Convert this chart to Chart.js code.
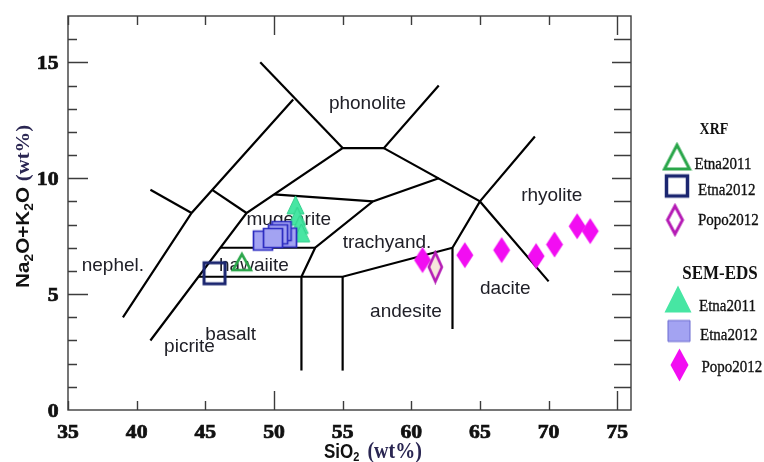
<!DOCTYPE html>
<html>
<head>
<meta charset="utf-8">
<title>TAS - Etna / Popocatépetl</title>
<script src="https://cdn.jsdelivr.net/npm/chart.js@4.4.1/dist/chart.umd.min.js"></script>
<style>
  html, body { margin: 0; padding: 0; background: #fff; }
  canvas { display: block; }
</style>
</head>
<body>
<canvas id="tas" width="764" height="462"></canvas>
<script>
// ---------- axis ----------
const xRange = [35, 76];
const yRange = [0, 17];
const xTicks = [35, 40, 45, 50, 55, 60, 65, 70, 75];
const xMajor = [50, 75];
const yTicks = [0, 5, 10, 15];

// ---------- TAS field boundaries (SiO2, Na2O+K2O) ----------
const tasLines = [
  [[39, 4], [44, 8.5], [51.4, 13.4]],
  [[41, 9.5], [44, 8.5]],
  [[45.5, 9.5], [48, 8.5]],
  [[41, 3], [48, 8.5], [55, 11.3], [58, 11.3], [62, 14]],
  [[49, 15], [55, 11.3]],
  [[58, 11.3], [65, 9], [70, 5.55]],
  [[63, 3.5], [63, 7], [65, 9], [69, 11.8]],
  [[44.5, 5.75], [55, 5.75], [63, 7]],
  [[52, 1.7], [52, 5.75], [53, 7], [57.2, 9], [62, 10]],
  [[55, 1.7], [55, 5.75]],
  [[46.1, 7], [53, 7]],
  [[50, 9.3], [57.2, 9]]
];

// field names, anchored at their left baseline
const fieldNames = ['phonolite', 'rhyolite', 'trachyand.', 'mugearite', 'hawaiite',
                    'nephel.', 'basalt', 'picrite', 'andesite', 'dacite'];
const fieldAnchors = [[54, 13], [68, 9], [55, 7], [48, 8], [46, 6],
                      [36, 6], [45, 3], [42, 2.5], [57, 4], [65, 5]];

// ---------- samples ----------
const xrfEtna2011 = [[47.66, 6.38]];
const xrfEtna2012 = [[45.67, 5.9]];
const xrfPopo2012 = [[61.75, 6.17]];

const semEtna2011 = [[51.57, 8.85], [51.69, 8.36], [51.88, 8.0], [51.99, 7.64]];
const semEtna2012 = [[50.95, 7.44], [50.55, 7.72], [50.3, 7.58], [49.2, 7.31], [49.93, 7.42]];
const semPopo2012 = [[60.82, 6.47], [63.9, 6.68], [66.58, 6.9], [69.09, 6.64],
                     [70.43, 7.14], [72.08, 7.93], [73.03, 7.72]];

const SANS = '"Liberation Sans", Arial, sans-serif';
const SERIF = '"Liberation Serif", "Times New Roman", serif';
const frameColor = '#3c3c3c';

// marker sprites (canvas) so triangles / tall diamonds keep their shape
function sprite(shape, w, h, fill, stroke, lw) {
  const c = document.createElement('canvas');
  c.width = Math.ceil(w + lw + 3);
  c.height = Math.ceil(h + lw + 3);
  const g = c.getContext('2d');
  const cx = c.width / 2, cy = c.height / 2;
  g.beginPath();
  if (shape === 'tri') {
    g.moveTo(cx, cy - h / 2);
    g.lineTo(cx + w / 2, cy + h / 2);
    g.lineTo(cx - w / 2, cy + h / 2);
  } else if (shape === 'sq') {
    g.rect(cx - w / 2, cy - h / 2, w, h);
  } else {
    g.moveTo(cx, cy - h / 2);
    g.lineTo(cx + w / 2, cy);
    g.lineTo(cx, cy + h / 2);
    g.lineTo(cx - w / 2, cy);
  }
  g.closePath();
  if (fill) { g.fillStyle = fill; g.fill(); }
  if (stroke) { g.lineWidth = lw; g.strokeStyle = stroke; g.lineJoin = 'miter'; g.stroke(); }
  return c;
}

const mk = {
  xrfTri: sprite('tri', 18, 16, null, '#2aa64a', 2.6),
  xrfSq: sprite('sq', 21, 21, null, '#1b2670', 3),
  xrfDia: sprite('dia', 13, 29, 'rgba(245,228,214,0.85)', '#b51cb5', 2.6),
  semTri: sprite('tri', 17, 18, '#47e6a3', '#30cf8b', 1),
  semSq: sprite('sq', 19, 19, '#a3a3f2', '#2a2ac0', 1.7),
  semDia: sprite('dia', 17, 26, '#f20df2', null, 0)
};
const legendMk = {
  xrfTri: sprite('tri', 25, 24, null, '#2aa64a', 3),
  xrfSq: sprite('sq', 21, 20, null, '#1b2670', 3.5),
  xrfDia: sprite('dia', 15, 28, '#fff', '#b51cb5', 3),
  semTri: sprite('tri', 27, 27, '#47e6a3', null, 0),
  semSq: sprite('sq', 22, 21, '#a3a3f2', '#6a6ad0', 1),
  semDia: sprite('dia', 18, 33, '#f20df2', null, 0)
};

const pts = arr => arr.map(([x, y]) => ({ x, y }));

function samples(label, arr, style, order) {
  return { label, data: pts(arr), pointStyle: style, pointRadius: 8, showLine: false, order };
}

function txt(ctx, s, x, y, font, color, align, sx = 1, sy = 1, heavy = 0) {
  ctx.save();
  ctx.translate(x, y);
  ctx.scale(sx, sy);
  ctx.font = font;
  ctx.fillStyle = color;
  ctx.textAlign = align;
  ctx.textBaseline = 'alphabetic';
  ctx.fillText(s, 0, 0);
  if (heavy) {
    ctx.strokeStyle = color;
    ctx.lineWidth = heavy;
    ctx.strokeText(s, 0, 0);
  }
  ctx.restore();
}

// text made of runs: [string, font, dy, color] or a number = extra gap
function runs(ctx, parts, x, y, angle, sx, sy) {
  ctx.save();
  ctx.translate(x, y);
  ctx.rotate(angle);
  ctx.scale(sx, sy);
  ctx.textBaseline = 'alphabetic';
  ctx.textAlign = 'left';
  let cx = 0;
  parts.forEach(p => {
    if (typeof p === 'number') { cx += p; return; }
    const [s, font, dy, color] = p;
    ctx.font = font;
    ctx.fillStyle = color;
    ctx.fillText(s, cx, dy);
    cx += ctx.measureText(s).width;
  });
  ctx.restore();
}

const tasDecor = {
  id: 'tasDecor',
  beforeDatasetsDraw(chart) {
    const ctx = chart.ctx, xs = chart.scales.x, ys = chart.scales.y;
    fieldNames.forEach((name, i) => {
      const [vx, vy] = fieldAnchors[i];
      txt(ctx, name, xs.getPixelForValue(vx), ys.getPixelForValue(vy),
          '19px ' + SANS, '#202028', 'left');
    });
  },
  afterDatasetsDraw(chart) {
    const ctx = chart.ctx, xs = chart.scales.x, ys = chart.scales.y;
    const { left, right, top, bottom } = chart.chartArea;
    ctx.save();
    ctx.strokeStyle = frameColor;
    ctx.lineWidth = 1.4;
    ctx.beginPath();
    xTicks.forEach(v => {
      const px = Math.round(xs.getPixelForValue(v)) + 0.5;
      const len = xMajor.includes(v) ? 19 : 9;
      ctx.moveTo(px, bottom); ctx.lineTo(px, bottom - len);
      ctx.moveTo(px, top); ctx.lineTo(px, top + len);
    });
    for (let v = yRange[0] + 1; v < yRange[1]; v++) {
      const py = Math.round(ys.getPixelForValue(v)) + 0.5;
      const major = v % 5 === 0;
      ctx.moveTo(left, py); ctx.lineTo(left + (major ? 20 : 9), py);
      ctx.moveTo(right, py); ctx.lineTo(right - (major ? 19 : 17), py);
    }
    ctx.stroke();
    ctx.strokeRect(left, top, right - left, bottom - top);
    ctx.restore();
  },
  afterDraw(chart) {
    const ctx = chart.ctx, xs = chart.scales.x, ys = chart.scales.y;
    const tickFont = '700 19px ' + SERIF;
    xTicks.forEach(v => {
      txt(ctx, String(v), xs.getPixelForValue(v), 438, tickFont, '#111', 'center', 1.14, 1, 0.7);
    });
    yTicks.forEach(v => {
      txt(ctx, String(v), 58.5, ys.getPixelForValue(v) + 6.5, tickFont, '#111', 'right', 1.14, 1, 0.7);
    });

    // axis titles
    runs(ctx, [
      ['SiO', '700 17px ' + SANS, 0, '#111'],
      ['2', '700 11px ' + SANS, 3, '#111'],
      8,
      ['(wt%)', '700 20px ' + SERIF, 0, '#2a2652']
    ], 324, 458, 0, 1, 1.15);

    runs(ctx, [
      ['Na', '700 18px ' + SANS, 0, '#111'],
      ['2', '700 12px ' + SANS, 4, '#111'],
      ['O+K', '700 18px ' + SANS, 0, '#111'],
      ['2', '700 12px ' + SANS, 4, '#111'],
      ['O', '700 18px ' + SANS, 0, '#111'],
      5,
      ['(wt%)', '700 18px ' + SERIF, 0, '#2a2652']
    ], 28.5, 288, -Math.PI / 2, 1.15, 1);

    // legend
    const put = (img, x, y) => ctx.drawImage(img, x - img.width / 2, y - img.height / 2);
    txt(ctx, 'XRF', 714, 134, '700 14px ' + SERIF, '#111', 'center', 1, 1.2);
    put(legendMk.xrfTri, 677, 157);
    txt(ctx, 'Etna2011', 694.5, 169, '15px ' + SERIF, '#111', 'left', 1, 1.18, 0.3);
    put(legendMk.xrfSq, 677, 186);
    txt(ctx, 'Etna2012', 698, 195, '15px ' + SERIF, '#111', 'left', 1, 1.18, 0.3);
    put(legendMk.xrfDia, 675, 220);
    txt(ctx, 'Popo2012', 698, 225, '15px ' + SERIF, '#111', 'left', 1, 1.18, 0.3);

    txt(ctx, 'SEM-EDS', 720, 279, '700 17px ' + SERIF, '#111', 'center', 1, 1.1);
    put(legendMk.semTri, 678, 299);
    txt(ctx, 'Etna2011', 699, 311, '15px ' + SERIF, '#111', 'left', 1, 1.18, 0.3);
    put(legendMk.semSq, 679, 331);
    txt(ctx, 'Etna2012', 700, 340, '15px ' + SERIF, '#111', 'left', 1, 1.18, 0.3);
    put(legendMk.semDia, 679.5, 365);
    txt(ctx, 'Popo2012', 701.5, 372, '15px ' + SERIF, '#111', 'left', 1, 1.18, 0.3);
  }
};

const boundarySets = tasLines.map(line => ({
  label: 'boundary',
  data: pts(line),
  showLine: true,
  borderColor: '#000',
  borderWidth: 2.2,
  pointRadius: 0,
  fill: false,
  order: 10
}));

new Chart(document.getElementById('tas'), {
  type: 'scatter',
  data: {
    datasets: [
      samples('XRF Etna2011', xrfEtna2011, mk.xrfTri, 0),
      samples('XRF Etna2012', xrfEtna2012, mk.xrfSq, 0),
      samples('XRF Popo2012', xrfPopo2012, mk.xrfDia, 0),
      samples('SEM-EDS Etna2012', semEtna2012, mk.semSq, 1),
      samples('SEM-EDS Popo2012', semPopo2012, mk.semDia, 1),
      samples('SEM-EDS Etna2011', semEtna2011, mk.semTri, 2),
      ...boundarySets
    ]
  },
  options: {
    responsive: false,
    animation: false,
    events: [],
    layout: { padding: { top: 16, right: 133, left: 0, bottom: 0 } },
    plugins: { legend: { display: false }, tooltip: { enabled: false } },
    scales: {
      x: {
        type: 'linear', min: xRange[0], max: xRange[1],
        ticks: { display: false }, grid: { display: false }, border: { display: false },
        afterFit: s => { s.height = 52; }
      },
      y: {
        type: 'linear', min: yRange[0], max: yRange[1],
        ticks: { display: false }, grid: { display: false }, border: { display: false },
        afterFit: s => { s.width = 68; }
      }
    }
  },
  plugins: [tasDecor]
});
</script>
</body>
</html>
